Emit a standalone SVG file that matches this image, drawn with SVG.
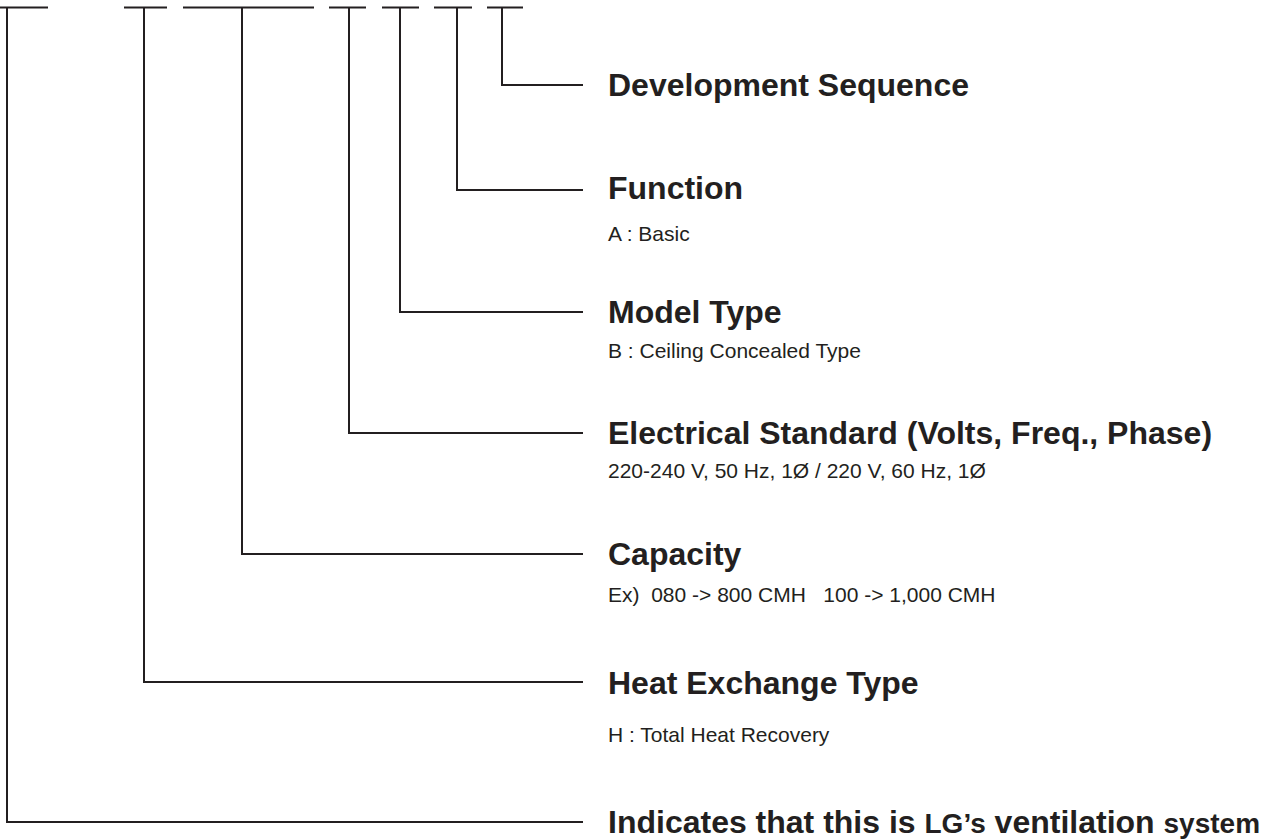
<svg xmlns="http://www.w3.org/2000/svg" width="1285" height="839" viewBox="0 0 1285 839">
<style>
.ln{stroke:#231f20;stroke-width:2;fill:none}
.t{font-family:"Liberation Sans",Arial,Helvetica,sans-serif;font-weight:bold;font-size:32px;fill:#231f20}
.s{font-family:"Liberation Sans",Arial,Helvetica,sans-serif;font-size:21px;fill:#231f20}
.sm{font-size:28px}
</style>
<rect width="1285" height="839" fill="#ffffff"/>
<g id="code-bars" class="ln">
<line x1="0" y1="7.5" x2="48" y2="7.5"/>
<line x1="124" y1="7.5" x2="167" y2="7.5"/>
<line x1="183" y1="7.5" x2="314" y2="7.5"/>
<line x1="329" y1="7.5" x2="366" y2="7.5"/>
<line x1="382" y1="7.5" x2="419" y2="7.5"/>
<line x1="434" y1="7.5" x2="472" y2="7.5"/>
<line x1="487" y1="7.5" x2="523" y2="7.5"/>
</g>
<g id="connectors" class="ln">
<path d="M502,7.5 V85 H583"/>
<path d="M457,7.5 V190 H583"/>
<path d="M400,7.5 V312 H583"/>
<path d="M349,7.5 V433 H583"/>
<path d="M242,7.5 V554 H583"/>
<path d="M144,7.5 V682 H583"/>
<path d="M7,7.5 V822 H583"/>
</g>
<g id="development-sequence"><text class="t" x="608" y="96">Development Sequence</text></g>
<g id="function"><text class="t" x="608" y="199">Function</text><text class="s" x="608" y="241">A : Basic</text></g>
<g id="model-type"><text class="t" x="608" y="323">Model Type</text><text class="s" x="608" y="358">B : Ceiling Concealed Type</text></g>
<g id="electrical-standard"><text class="t" x="608" y="444">Electrical Standard (Volts, Freq., Phase)</text><text class="s" x="608" y="478">220-240 V, 50 Hz, 1Ø / 220 V, 60 Hz, 1Ø</text></g>
<g id="capacity"><text class="t" x="608" y="565">Capacity</text><text class="s" x="608" y="602" xml:space="preserve">Ex)  080 -&gt; 800 CMH   100 -&gt; 1,000 CMH</text></g>
<g id="heat-exchange-type"><text class="t" x="608" y="694">Heat Exchange Type</text><text class="s" x="608" y="742">H : Total Heat Recovery</text></g>
<g id="lg-system"><text class="t" x="608" y="833">Indicates that this is <tspan class="sm">LG’s</tspan> ventilation <tspan class="sm">system</tspan></text></g>
</svg>
